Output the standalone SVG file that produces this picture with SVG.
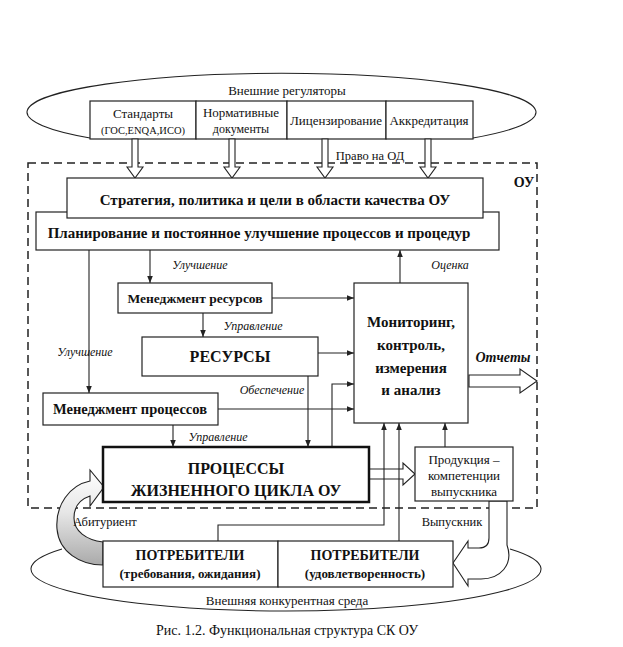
<svg xmlns="http://www.w3.org/2000/svg" width="623" height="647" viewBox="0 0 623 647" font-family="'Liberation Serif', 'Times New Roman', 'DejaVu Serif', serif">
<defs>
<style>
text{font-family:'Liberation Serif','Times New Roman','DejaVu Serif',serif;fill:#111}
.b{font-weight:bold}
.i{font-style:italic}
.box{fill:#fff;stroke:#222;stroke-width:1.2}
.ln{fill:none;stroke:#222;stroke-width:1.1}
.ha{fill:#fff;stroke:#222;stroke-width:1.1}
</style>
<marker id="ar" viewBox="0 0 10 10" refX="10" refY="5" markerWidth="7" markerHeight="7" orient="auto" markerUnits="userSpaceOnUse">
<path d="M0,1 L10,5 L0,9 Z" fill="#222"/>
</marker>
<linearGradient id="hg" x1="0" y1="0" x2="0" y2="1">
<stop offset="0" stop-color="#fff"/>
<stop offset="0.45" stop-color="#e6e6e6"/>
<stop offset="1" stop-color="#aaa"/>
</linearGradient>
</defs>
<rect width="623" height="647" fill="#fff"/>

<g id="outer-regulators">
<path class="ln" d="M90,138 A254.5,39 0 1 1 473,138"/>
<text x="287" y="95" font-size="13" text-anchor="middle">Внешние регуляторы</text>
</g>
<g id="reg-standards">
<rect class="box" x="90" y="101" width="106" height="38"/>
<text x="143" y="118" font-size="13" text-anchor="middle">Стандарты</text>
<text x="143" y="134" font-size="10.5" text-anchor="middle">(ГОС,ENQA,ИСО)</text>
</g>
<g id="reg-normative">
<rect class="box" x="196" y="101" width="91" height="38"/>
<text x="241" y="117" font-size="13" text-anchor="middle">Нормативные</text>
<text x="241" y="133" font-size="12" text-anchor="middle">документы</text>
</g>
<g id="reg-license">
<rect class="box" x="287" y="101" width="99" height="38"/>
<text x="336" y="125" font-size="13" text-anchor="middle">Лицензирование</text>
</g>
<g id="reg-accred">
<rect class="box" x="386" y="101" width="87" height="38"/>
<text x="429" y="125" font-size="13" text-anchor="middle">Аккредитация</text>
</g>

<g id="ou-boundary">
<rect x="28" y="163" width="509" height="345" fill="none" stroke="#222" stroke-width="1.5" stroke-dasharray="8,5"/>
<text class="b" x="524" y="187" font-size="14" text-anchor="middle">ОУ</text>
</g>

<g id="outer-market">
<path class="ln" d="M62,549 A255,42 0 1 0 510,549"/>
<text x="287" y="605" font-size="13" text-anchor="middle">Внешняя конкурентная среда</text>
</g>

<g id="connectors">
<path class="ha" d="M132,139 L138,139 L138,167 L143,167 L135,178 L127,167 L132,167 Z"/>
<path class="ha" d="M229,139 L235,139 L235,167 L240,167 L232,178 L224,167 L229,167 Z"/>
<path class="ha" d="M322,139 L328,139 L328,167 L333,167 L325,178 L317,167 L322,167 Z"/>
<path class="ha" d="M425,139 L431,139 L431,167 L436,167 L428,178 L420,167 L425,167 Z"/>
<text x="370" y="160" font-size="12.5" text-anchor="middle">Право на ОД</text>

<line class="ln" x1="150" y1="250" x2="150" y2="283" marker-end="url(#ar)"/>
<text class="i" x="200" y="269" font-size="12" text-anchor="middle">Улучшение</text>
<line class="ln" x1="89" y1="250" x2="89" y2="393" marker-end="url(#ar)"/>
<text class="i" x="85" y="356" font-size="12" text-anchor="middle">Улучшение</text>
<line class="ln" x1="400" y1="283" x2="400" y2="250" marker-end="url(#ar)"/>
<text class="i" x="450" y="269" font-size="12" text-anchor="middle">Оценка</text>

<line class="ln" x1="272" y1="298" x2="354" y2="298" marker-end="url(#ar)"/>
<line class="ln" x1="203" y1="313" x2="203" y2="337" marker-end="url(#ar)"/>
<text class="i" x="253" y="330" font-size="12" text-anchor="middle">Управление</text>
<line class="ln" x1="318" y1="353" x2="354" y2="353" marker-end="url(#ar)"/>
<line class="ln" x1="308" y1="376" x2="308" y2="447" marker-end="url(#ar)"/>
<text class="i" x="272" y="394" font-size="12" text-anchor="middle">Обеспечение</text>
<polyline class="ln" points="332,447 332,384 354,384" marker-end="url(#ar)"/>
<line class="ln" x1="218" y1="409" x2="354" y2="409" marker-end="url(#ar)"/>
<line class="ln" x1="173" y1="425" x2="173" y2="447" marker-end="url(#ar)"/>
<text class="i" x="218" y="441" font-size="12" text-anchor="middle">Управление</text>

<path class="ha" d="M469,375 L520,375 L520,369 L537,381 L520,393 L520,387 L469,387 Z"/>
<text class="b i" x="503" y="362" font-size="14" text-anchor="middle">Отчеты</text>

<path class="ha" d="M369,469 L403,469 L403,463 L415,474 L403,485 L403,479 L369,479 Z"/>
<line class="ln" x1="445" y1="447" x2="445" y2="423" marker-end="url(#ar)"/>
<polyline class="ln" points="218,541 218,525 384,525 384,423" marker-end="url(#ar)"/>
<line class="ln" x1="399" y1="541" x2="399" y2="423" marker-end="url(#ar)"/>

<path d="M103,542 C86,540 74,531 74,518 C74,506 81,499 90,496 L90,506 L104,487 L90,470 L90,481 C70,485 55,505 57,529 C59,552 80,565 103,565 Z" fill="url(#hg)" stroke="#222" stroke-width="1.1"/>
<text x="105" y="526" font-size="12.5" text-anchor="middle">Абитуриент</text>

<path class="ha" d="M489,501 L489,538 C489,545 485,548 479,548 L468,548 L468,541 L453,563 L468,586 L468,579 L481,579 C500,579 514,565 507,545 L507,501 Z"/>
<text x="452" y="526" font-size="12.5" text-anchor="middle">Выпускник</text>
</g>

<g id="planning">
<rect class="box" x="36" y="212" width="463" height="38"/>
<text class="b" x="259" y="238" font-size="15" text-anchor="middle">Планирование и постоянное улучшение процессов и процедур</text>
</g>
<g id="strategy">
<rect class="box" x="67" y="178" width="416" height="40"/>
<text class="b" x="275" y="205" font-size="15" text-anchor="middle">Стратегия, политика и цели в области качества ОУ</text>
</g>
<g id="res-mgmt">
<rect class="box" x="118" y="283" width="154" height="30"/>
<text class="b" x="195" y="303" font-size="13.5" text-anchor="middle">Менеджмент ресурсов</text>
</g>
<g id="monitoring">
<rect class="box" x="354" y="283" width="114" height="140"/>
<text class="b" x="411" y="327" font-size="15" text-anchor="middle">Мониторинг,</text>
<text class="b" x="411" y="350" font-size="15" text-anchor="middle">контроль,</text>
<text class="b" x="411" y="373" font-size="15" text-anchor="middle">измерения</text>
<text class="b" x="411" y="395" font-size="15" text-anchor="middle">и анализ</text>
</g>
<g id="resources">
<rect class="box" x="142" y="337" width="176" height="39"/>
<text class="b" x="230" y="362" font-size="16" text-anchor="middle">РЕСУРСЫ</text>
</g>
<g id="proc-mgmt">
<rect class="box" x="43" y="393" width="175" height="32"/>
<text class="b" x="130" y="414" font-size="14.5" text-anchor="middle">Менеджмент процессов</text>
</g>
<g id="lifecycle">
<rect x="103" y="447" width="266" height="55" fill="#fff" stroke="#111" stroke-width="2.5"/>
<text class="b" x="236" y="474" font-size="16" text-anchor="middle">ПРОЦЕССЫ</text>
<text class="b" x="236" y="496" font-size="16" text-anchor="middle">ЖИЗНЕННОГО ЦИКЛА ОУ</text>
</g>
<g id="product">
<rect class="box" x="415" y="447" width="98" height="54"/>
<text x="464" y="464" font-size="13" text-anchor="middle">Продукция –</text>
<text x="464" y="480" font-size="13" text-anchor="middle">компетенции</text>
<text x="464" y="496" font-size="13" text-anchor="middle">выпускника</text>
</g>
<g id="consumers-req">
<rect class="box" x="103" y="541" width="175" height="46"/>
<text class="b" x="190" y="560" font-size="14" text-anchor="middle">ПОТРЕБИТЕЛИ</text>
<text class="b" x="190" y="578" font-size="13" text-anchor="middle">(требования, ожидания)</text>
</g>
<g id="consumers-sat">
<rect class="box" x="278" y="541" width="175" height="46"/>
<text class="b" x="365" y="560" font-size="14" text-anchor="middle">ПОТРЕБИТЕЛИ</text>
<text class="b" x="365" y="578" font-size="13" text-anchor="middle">(удовлетворенность)</text>
</g>

<text x="287" y="635" font-size="14" text-anchor="middle">Рис. 1.2. Функциональная структура СК ОУ</text>
</svg>
